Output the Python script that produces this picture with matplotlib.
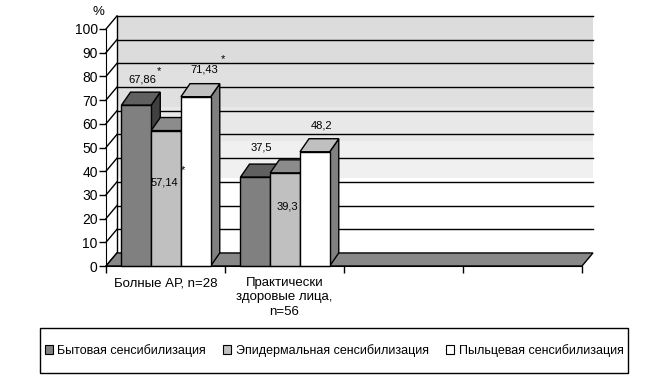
import matplotlib
matplotlib.use("Agg")
import matplotlib.pyplot as plt
from matplotlib.patches import Polygon, Patch, Rectangle

plt.rcParams['font.family'] = ['Liberation Sans', 'DejaVu Sans']

# --- data ---
categories = ["Болные АР, n=28", "Практически\nздоровые лица,\nn=56", "", ""]
series_names = ["Бытовая сенсибилизация", "Эпидермальная сенсибилизация",
                "Пыльцевая сенсибилизация"]
household = [67.86, 37.5]
epidermal = [57.14, 39.3]
pollen = [71.43, 48.2]
value_labels = [["67,86", "37,5"], ["57,14", "39,3"], ["71,43", "48,2"]]
has_star = [[True, False], [True, False], [True, False]]
yticks = list(range(0, 101, 10))

series = [household, epidermal, pollen]

# --- styling / layout ---
# (front, top, side) shades per series
shades = [("#808080", "#606060", "#404040"),
          ("#c0c0c0", "#8c8c8c", "#707070"),
          ("#ffffff", "#c0c0c0", "#808080")]
wall_dx, wall_dy = 0.092, 5.5     # depth of the chart box (x in category units, y in %)
bar_dx, bar_dy = 0.076, 5.5
bar_w = 0.25
group_pad = 0.13
# label offsets relative to (bar centre, bar top)
label_off = [[(0.05, 11.0), (0.05, 12.3)],
             [(-0.01, -21.7), (0.02, -14.0)],
             [(0.07, 11.3), (0.06, 10.9)]]
star_off = [(0.19, 14.5), (0.14, -16.6), (0.23, 15.9)]

fig = plt.figure(figsize=(6.63, 3.88), dpi=100)
ax = fig.add_axes([106 / 663, 122 / 388, 476 / 663, 237 / 388])
ax.set_xlim(0, len(categories))
ax.set_ylim(0, 100)
ax.patch.set_visible(False)

ncat = len(categories)

# back wall with light gradient bands
bands = [(80, 100, "#dcdcdc"), (61.6, 80, "#e0e0e0"), (47.3, 61.6, "#e8e8e8"),
         (31.6, 47.3, "#f0f0f0")]
for lo, hi, c in bands:
    ax.add_patch(Rectangle((wall_dx, lo + wall_dy), ncat, hi - lo, facecolor=c,
                           edgecolor="none", clip_on=False, zorder=0))

# gridlines on back wall + side wall diagonals
for v in yticks[1:]:
    ax.plot([wall_dx, ncat + wall_dx], [v + wall_dy, v + wall_dy], color="black",
            lw=1, clip_on=False, zorder=1)
for v in yticks:
    ax.plot([0, wall_dx], [v, v + wall_dy], color="black", lw=1, clip_on=False, zorder=1)
ax.plot([wall_dx, wall_dx], [wall_dy, 100 + wall_dy], color="black", lw=1,
        clip_on=False, zorder=1)

# floor
ax.add_patch(Polygon([(0, 0), (ncat, 0), (ncat + wall_dx, wall_dy), (wall_dx, wall_dy)],
                     closed=True, facecolor="#888888", edgecolor="black", lw=1,
                     clip_on=False, zorder=2))


def bar3d(x0, h, cols, z):
    front, top, side = cols
    ax.add_patch(Polygon([(x0 + bar_w, 0), (x0 + bar_w + bar_dx, bar_dy),
                          (x0 + bar_w + bar_dx, h + bar_dy), (x0 + bar_w, h)],
                         closed=True, facecolor=side, edgecolor="black", lw=1,
                         clip_on=False, zorder=z))
    ax.add_patch(Polygon([(x0, h), (x0 + bar_w, h), (x0 + bar_w + bar_dx, h + bar_dy),
                          (x0 + bar_dx, h + bar_dy)],
                         closed=True, facecolor=top, edgecolor="black", lw=1,
                         clip_on=False, zorder=z))
    ax.add_patch(Polygon([(x0, 0), (x0 + bar_w, 0), (x0 + bar_w, h), (x0, h)],
                         closed=True, facecolor=front, edgecolor="black", lw=1,
                         clip_on=False, zorder=z))


z = 3
for ci in range(len(household)):
    for si, vals in enumerate(series):
        x0 = ci + group_pad + si * bar_w
        bar3d(x0, vals[ci], shades[si], z)
        z += 1

# value labels
for si, vals in enumerate(series):
    for ci, v in enumerate(vals):
        xc = ci + group_pad + (si + 0.5) * bar_w
        ox, oy = label_off[si][ci]
        ax.text(xc + ox, v + oy, value_labels[si][ci], ha="center", va="center",
                fontsize=8, zorder=20)
        if has_star[si][ci]:
            sx, sy = star_off[si]
            ax.text(xc + sx, v + sy, "*", ha="center", va="center", fontsize=8, zorder=20)

ax.text(-0.01, 107, "%", ha="right", va="center", fontsize=9.5)

# axes
for s in ("top", "right"):
    ax.spines[s].set_visible(False)
ax.spines["left"].set_zorder(30)
ax.spines["bottom"].set_zorder(30)
ax.set_yticks(yticks)
ax.tick_params(axis="y", direction="out", length=5, width=1, pad=1, labelsize=10)
ax.set_xticks(range(ncat + 1))
ax.set_xticklabels([])
ax.tick_params(axis="x", which="major", direction="out", length=5, width=1)
ax.set_xticks([i + 0.5 for i in range(ncat)], minor=True)
ax.set_xticklabels(categories, minor=True, fontsize=9.5, linespacing=1.25)
ax.tick_params(axis="x", which="minor", length=0, pad=8)

# legend
handles = [Patch(facecolor=shades[i][0], edgecolor="black", lw=0.8) for i in range(3)]
fig.legend(handles, series_names, loc="center", bbox_to_anchor=(0.504, 0.0966),
           ncol=3, frameon=False, fontsize=9, handlelength=0.65, handleheight=0.65,
           handletextpad=0.35, columnspacing=1.4)
fig.add_artist(Rectangle((40 / 663, 15 / 388), 588 / 663, 45 / 388, transform=fig.transFigure,
                         facecolor="none", edgecolor="black", lw=1))

fig.savefig("out.png", dpi=100)
